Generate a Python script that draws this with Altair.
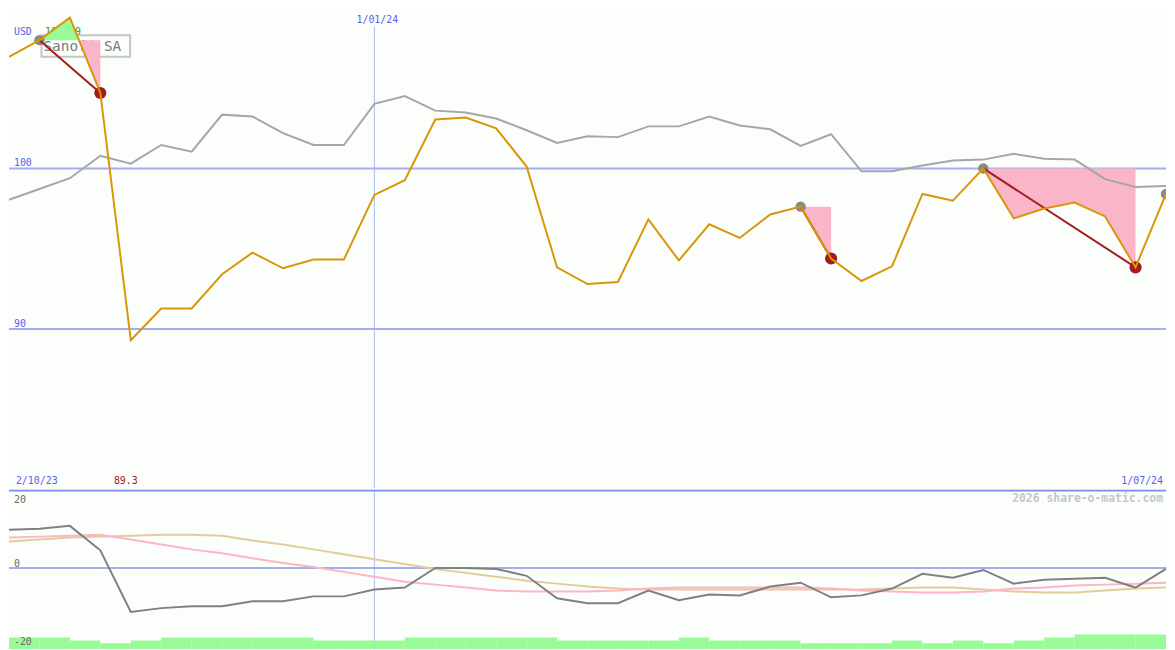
import altair as alt
import pandas as pd

# ---------------- data ----------------
label_start = "2/10/23"
label_mid = "1/01/24"
label_end = "1/07/24"
mid_index = 12
currency = "USD"
company = "Sanofi SA"
credit = "2026 share-o-matic.com"

price = [106.95, 107.99, 109.39, 104.70, 89.30, 91.28, 91.28, 93.41, 94.76, 93.78,
         94.33, 94.33, 98.35, 99.27, 103.05, 103.17, 102.50, 100.12, 93.84, 92.80,
         92.93, 96.83, 94.27, 96.52, 95.67, 97.13, 97.62, 94.39, 92.99, 93.90,
         98.41, 97.99, 100.00, 96.89, 97.50, 97.87, 97.01, 93.84, 98.41]

benchmark = [98.05, 98.72, 99.39, 100.79, 100.30, 101.46, 101.04, 103.35, 103.23, 102.20,
             101.46, 101.46, 104.02, 104.51, 103.60, 103.48, 103.11, 102.38, 101.59, 102.01,
             101.95, 102.62, 102.62, 103.23, 102.68, 102.44, 101.40, 102.13, 99.82, 99.82,
             100.18, 100.49, 100.55, 100.91, 100.61, 100.55, 99.33, 98.84, 98.90]

rel_strength = [9.75, 10.0, 10.75, 4.5, -11.25, -10.25, -9.75, -9.75, -8.5, -8.5,
                -7.25, -7.25, -5.5, -5.0, 0.0, 0.0, -0.25, -2.0, -7.75, -9.0,
                -9.0, -5.75, -8.25, -6.75, -7.0, -4.75, -3.75, -7.5, -7.0, -5.25,
                -1.5, -2.5, -0.5, -4.0, -3.0, -2.75, -2.5, -5.0, -0.25]

avg_pink = [7.75, 8.0, 8.25, 8.5, 7.25, 6.0, 4.75, 3.75, 2.5, 1.25,
            0.25, -1.0, -2.25, -3.5, -4.25, -5.0, -5.75, -6.0, -6.0, -6.0,
            -5.75, -5.25, -5.0, -5.0, -5.0, -5.0, -5.0, -5.25, -5.75, -6.0,
            -6.25, -6.25, -6.0, -5.25, -5.0, -4.5, -4.25, -4.0, -3.75]

avg_tan = [6.75, 7.25, 7.75, 8.0, 8.25, 8.5, 8.5, 8.25, 7.0, 6.0,
           4.75, 3.5, 2.25, 1.0, -0.25, -1.25, -2.25, -3.25, -4.0, -4.75,
           -5.25, -5.5, -5.5, -5.5, -5.5, -5.5, -5.5, -5.5, -5.5, -5.25,
           -5.0, -5.0, -5.5, -6.0, -6.25, -6.25, -5.75, -5.25, -5.0]

bar_values = [-17.75, -17.75, -18.5, -19.25, -18.5, -17.75, -17.75, -17.75, -17.75, -17.75,
              -18.5, -18.5, -18.5, -17.75, -17.75, -17.75, -17.75, -17.75, -18.5, -18.5,
              -18.5, -18.5, -17.75, -18.5, -18.5, -18.5, -19.25, -19.25, -19.25, -18.5,
              -19.25, -18.5, -19.25, -18.5, -17.75, -17.0, -17.0, -17.0]

peak_idx = [1, 26, 32]
trough_idx = [3, 27, 37]
last_idx = [38]

main_grid = [100, 90]
main_grid_labels = ["100", "90"]
lower_top_label = ["20"]
lower_top_value = [20]
lower_grid = [0, -20]
lower_grid_labels = ["0", "-20"]

# ---------------- styling / layout ----------------
W, H1, H2 = 1167, 481, 161
SX, SY, SY2 = W / 1175, H1 / 487, H2 / 163
FONT = "DejaVu Sans Mono"
BG = "#fcfefc"
GRID = "#a3adf0"
VGRID = "#aab4f6"
SEP = "#7b8cf0"
BLUE_TXT = "#5862ee"
ORANGE = "#d9960a"
GREY = "#a6a6a6"
DGREY = "#808080"
PINK_LINE = "#ffb3c8"
TAN = "#e3cc9a"
PINK_FILL = "#fbb5c9"
GREEN = "#98fb98"
DARKRED = "#a31c1c"
CIRCLE_GREY = "#888888"

n = len(price)
x_scale = alt.Scale(domain=[0, n - 1], nice=False, zero=False)
y1_scale = alt.Scale(domain=[80.12, 109.82], nice=False, zero=False)
y2_scale = alt.Scale(domain=[-20.75, 20], nice=False, zero=False)


def X(f):
    return alt.X(f, scale=x_scale, axis=None)


def Y1(f):
    return alt.Y(f, scale=y1_scale, axis=None)


def Y2(f):
    return alt.Y(f, scale=y2_scale, axis=None)


df = pd.DataFrame({"i": list(range(n)), "price": price, "bench": benchmark,
                   "rel": rel_strength, "pink": avg_pink, "tan": avg_tan})

# drawdown fill areas (split where price crosses the peak level)
rows = []
for g, (p, t) in enumerate(zip(peak_idx, trough_idx)):
    lvl = price[p]
    pts = [(p, price[p])]
    for i in range(p + 1, t + 1):
        a, b = price[i - 1] - lvl, price[i] - lvl
        if a * b < 0:
            pts.append(((i - 1) + a / (a - b), lvl))
        pts.append((i, price[i]))
    cur = None
    sid = 0
    for j in range(len(pts) - 1):
        (x0, v0), (x1, v1) = pts[j], pts[j + 1]
        s = "up" if (v0 + v1) / 2 > lvl else "down"
        if s != cur:
            sid += 1
            cur = s
            rows.append(dict(g=f"{g}-{sid}", x=x0, y=v0, lvl=lvl, c=s))
        rows.append(dict(g=f"{g}-{sid}", x=x1, y=v1, lvl=lvl, c=s))
area_df = pd.DataFrame(rows)

dd_rows = []
for g, (p, t) in enumerate(zip(peak_idx, trough_idx)):
    dd_rows.append(dict(g=g, x=p, y=price[p]))
    dd_rows.append(dict(g=g, x=t, y=price[t]))
dd_df = pd.DataFrame(dd_rows)

grey_pts = pd.DataFrame({"x": peak_idx + last_idx, "y": [price[k] for k in peak_idx + last_idx]})
red_pts = pd.DataFrame({"x": trough_idx, "y": [price[k] for k in trough_idx]})

hi_i = max(range(n), key=lambda k: price[k])
lo_i = min(range(n), key=lambda k: price[k])


def fmt(v):
    return f"{v:.2f}".rstrip("0").rstrip(".")


one = pd.DataFrame({"a": [0]})

# ---------------- main panel ----------------
g1 = alt.Chart(pd.DataFrame({"v": main_grid, "t": main_grid_labels}))
rules1 = g1.mark_rule(color=GRID, strokeWidth=2, clip=True).encode(y=Y1("v:Q"))
gtext1 = g1.mark_text(align="left", baseline="alphabetic", dy=-2, font=FONT, fontSize=10,
                      color=BLUE_TXT).encode(x=alt.value(5 * SX), y=Y1("v:Q"), text="t:N")

mid_df = pd.DataFrame({"i": [mid_index], "t": [label_mid]})
vline1 = alt.Chart(mid_df).mark_rule(color=VGRID, strokeWidth=1).encode(
    x=X("i:Q"), y=alt.value(16 * SY), y2=alt.value(H1))
midtext = alt.Chart(mid_df).mark_text(align="center", baseline="alphabetic", dx=3, font=FONT,
                                      fontSize=10, color=BLUE_TXT).encode(
    x=X("i:Q"), y=alt.value(13 * SY), text="t:N")

usd = alt.Chart(pd.DataFrame({"t": [currency]})).mark_text(
    align="left", baseline="alphabetic", font=FONT, fontSize=10, color=BLUE_TXT).encode(
    x=alt.value(5 * SX), y=alt.value(25 * SY), text="t:N")
start_t = alt.Chart(pd.DataFrame({"t": [label_start]})).mark_text(
    align="left", baseline="alphabetic", font=FONT, fontSize=10, color=BLUE_TXT).encode(
    x=alt.value(7 * SX), y=alt.value(483 * SY), text="t:N")
end_t = alt.Chart(pd.DataFrame({"t": [label_end]})).mark_text(
    align="right", baseline="alphabetic", font=FONT, fontSize=10, color=BLUE_TXT).encode(
    x=alt.value(W - 3), y=alt.value(483 * SY), text="t:N")
hi_t = alt.Chart(pd.DataFrame({"i": [hi_i], "t": [fmt(price[hi_i])]})).mark_text(
    align="center", baseline="alphabetic", dx=-7, font=FONT, fontSize=10, color="#2f9a2f").encode(
    x=X("i:Q"), y=alt.value(25 * SY), text="t:N")
lo_t = alt.Chart(pd.DataFrame({"i": [lo_i], "t": [fmt(price[lo_i])]})).mark_text(
    align="center", baseline="alphabetic", dx=-5, font=FONT, fontSize=10, color=DARKRED).encode(
    x=X("i:Q"), y=alt.value(483 * SY), text="t:N")

box = alt.Chart(one).mark_rect(fillOpacity=0, stroke="#c4c4c4", strokeWidth=2).encode(
    x=alt.value(33 * SX), x2=alt.value(123 * SX), y=alt.value(25 * SY), y2=alt.value(47 * SY))
box_t = alt.Chart(pd.DataFrame({"t": [company]})).mark_text(
    align="left", baseline="alphabetic", font=FONT, fontSize=14.5, color="#7a7a7a").encode(
    x=alt.value(35 * SX), y=alt.value(41 * SY), text="t:N")

areas = alt.Chart(area_df).mark_area(clip=True, opacity=1).encode(
    x=X("x:Q"), y=alt.Y("y:Q", scale=y1_scale, axis=None, stack=None), y2="lvl:Q",
    detail="g:N",
    color=alt.Color("c:N", scale=alt.Scale(domain=["up", "down"], range=[GREEN, PINK_FILL]), legend=None))

bench_line = alt.Chart(df).mark_line(color=GREY, strokeWidth=2, clip=True).encode(
    x=X("i:Q"), y=Y1("bench:Q"))
grey_c = alt.Chart(grey_pts).mark_circle(size=110, opacity=1, color=CIRCLE_GREY, clip=True).encode(
    x=X("x:Q"), y=Y1("y:Q"))
red_c = alt.Chart(red_pts).mark_circle(size=150, opacity=1, color=DARKRED, clip=True).encode(
    x=X("x:Q"), y=Y1("y:Q"))
dd_lines = alt.Chart(dd_df).mark_line(color=DARKRED, strokeWidth=2, clip=True).encode(
    x=X("x:Q"), y=Y1("y:Q"), detail="g:N")
price_line = alt.Chart(df).mark_line(color=ORANGE, strokeWidth=2, clip=True).encode(
    x=X("i:Q"), y=Y1("price:Q"))

main = alt.layer(rules1, vline1, gtext1, midtext, usd, start_t, end_t, hi_t, lo_t, box, box_t,
                 areas, bench_line, grey_c, red_c, dd_lines, price_line).properties(width=W, height=H1)

# ---------------- lower panel ----------------
vline2 = alt.Chart(mid_df).mark_rule(color=VGRID, strokeWidth=1).encode(
    x=X("i:Q"), y=alt.value(0), y2=alt.value(H2))
zero = alt.Chart(pd.DataFrame({"v": [0]})).mark_rule(color=GRID, strokeWidth=2, clip=True).encode(
    y=Y2("v:Q"))
bars_df = pd.DataFrame({"k": list(range(len(bar_values))),
                        "k2": [k + 1 for k in range(len(bar_values))], "v": bar_values})
bars = alt.Chart(bars_df).mark_rect(color=GREEN, clip=True).encode(
    x=X("k:Q"), x2="k2:Q", y=Y2("v:Q"), y2=alt.value(H2))
tan_line = alt.Chart(df).mark_line(color=TAN, strokeWidth=2, clip=True).encode(
    x=X("i:Q"), y=Y2("tan:Q"))
pink_line = alt.Chart(df).mark_line(color=PINK_LINE, strokeWidth=2, clip=True).encode(
    x=X("i:Q"), y=Y2("pink:Q"))
rel_line = alt.Chart(df).mark_line(color=DGREY, strokeWidth=2, clip=True).encode(
    x=X("i:Q"), y=Y2("rel:Q"))
sep = alt.Chart(one).mark_rule(color=SEP, strokeWidth=2).encode(
    x=alt.value(0), x2=alt.value(W), y=alt.value(1))
t20 = alt.Chart(pd.DataFrame({"v": lower_top_value, "t": lower_top_label})).mark_text(
    align="left", baseline="alphabetic", dy=13, font=FONT, fontSize=10, color="#6a6a6a").encode(
    x=alt.value(5 * SX), y=Y2("v:Q"), text="t:N")
tlow = alt.Chart(pd.DataFrame({"v": lower_grid, "t": lower_grid_labels})).mark_text(
    align="left", baseline="alphabetic", dy=-1, font=FONT, fontSize=10, color="#6a6a6a").encode(
    x=alt.value(5 * SX), y=Y2("v:Q"), text="t:N")
credit_t = alt.Chart(pd.DataFrame({"t": [credit]})).mark_text(
    align="right", baseline="alphabetic", font=FONT, fontSize=11.5, fontWeight="bold",
    color="#c6c6c6").encode(x=alt.value(W - 3), y=alt.value(13 * SY2), text="t:N")

lower = alt.layer(vline2, zero, bars, tan_line, pink_line, rel_line, sep, t20, tlow, credit_t
                  ).properties(width=W, height=H2)

chart = alt.vconcat(main, lower, spacing=0).properties(
    padding=0, background=BG).configure_view(stroke=None).configure_concat(spacing=0)

chart.save("out.html", embed_options={"renderer": "svg", "actions": False})
